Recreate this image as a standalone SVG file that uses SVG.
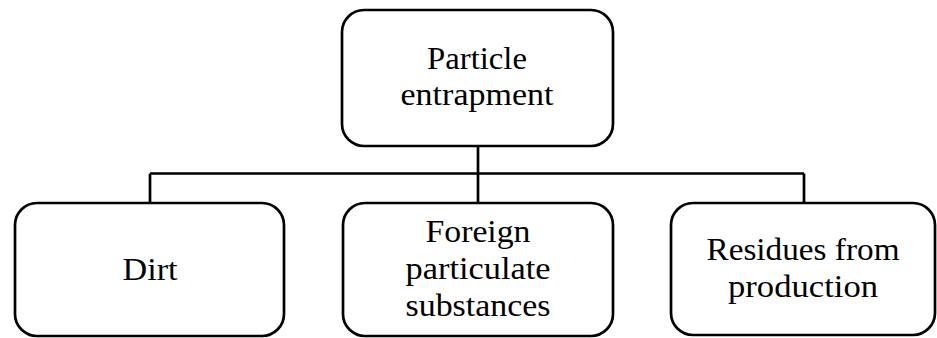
<svg xmlns="http://www.w3.org/2000/svg" width="937" height="338" viewBox="0 0 937 338">
<style>
.box{fill:#fff;stroke:#000;stroke-width:2.7}
.con{fill:none;stroke:#000;stroke-width:2.7}
.t{font-family:'Liberation Serif',serif;font-size:32px;fill:#000;text-anchor:middle}
</style>
<rect width="937" height="338" fill="#fff"/>
<g id="connectors">
<path class="con" d="M478,146 V203 M150,173.5 H804 M150,173.5 V203 M804,173.5 V203"/>
</g>
<g id="node-top">
<rect class="box" x="342" y="10" width="271" height="136" rx="22"/>
<text class="t" x="477" y="69" textLength="100" lengthAdjust="spacingAndGlyphs">Particle</text>
<text class="t" x="477" y="105" textLength="153" lengthAdjust="spacingAndGlyphs">entrapment</text>
</g>
<g id="node-dirt">
<rect class="box" x="15" y="203" width="269" height="133" rx="22"/>
<text class="t" x="150" y="280" textLength="55" lengthAdjust="spacingAndGlyphs">Dirt</text>
</g>
<g id="node-foreign">
<rect class="box" x="343" y="203" width="270" height="133" rx="22"/>
<text class="t" x="478" y="242" textLength="105" lengthAdjust="spacingAndGlyphs">Foreign</text>
<text class="t" x="478" y="279" textLength="145" lengthAdjust="spacingAndGlyphs">particulate</text>
<text class="t" x="478" y="316" textLength="145" lengthAdjust="spacingAndGlyphs">substances</text>
</g>
<g id="node-residues">
<rect class="box" x="671" y="203" width="264" height="132" rx="22"/>
<text class="t" x="803" y="260" textLength="193" lengthAdjust="spacingAndGlyphs">Residues from</text>
<text class="t" x="803" y="297" textLength="150" lengthAdjust="spacingAndGlyphs">production</text>
</g>
</svg>
